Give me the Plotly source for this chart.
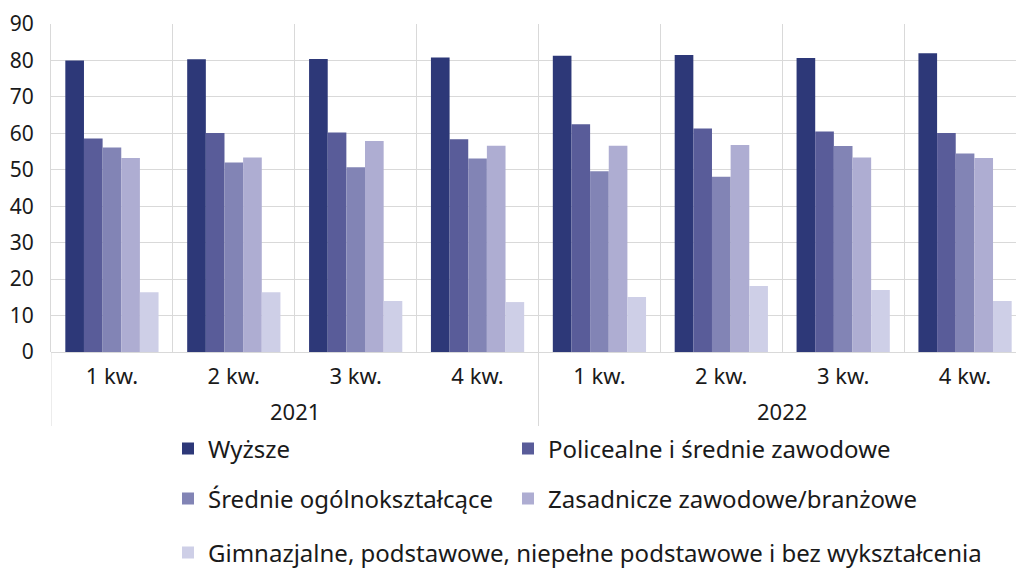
import plotly.graph_objects as go

years = ["2021", "2022"]
quarters = ["1 kw.", "2 kw.", "3 kw.", "4 kw.", "1 kw.", "2 kw.", "3 kw.", "4 kw."]

series_names = [
    "Wyższe",
    "Policealne i średnie zawodowe",
    "Średnie ogólnokształcące",
    "Zasadnicze zawodowe/branżowe",
    "Gimnazjalne, podstawowe, niepełne podstawowe i bez wykształcenia",
]
wyzsze = [80.0, 80.3, 80.4, 80.8, 81.3, 81.5, 80.7, 82.0]
policealne = [58.6, 60.1, 60.2, 58.4, 62.5, 61.3, 60.5, 60.1]
srednie = [56.1, 52.0, 50.7, 53.1, 49.6, 48.1, 56.5, 54.5]
zasadnicze = [53.2, 53.4, 57.9, 56.6, 56.6, 56.8, 53.4, 53.2]
gimnazjalne = [16.4, 16.4, 14.0, 13.7, 15.1, 18.1, 17.0, 14.0]

series_values = [wyzsze, policealne, srednie, zasadnicze, gimnazjalne]
colors = ["#2d3878", "#595c99", "#8284b5", "#aeadd2", "#cecfe7"]
y_ticks = [0, 10, 20, 30, 40, 50, 60, 70, 80, 90]

W, H = 1016, 568
ML, MR, MT, MB = 51, 0, 24, 216
pw = W - ML - MR
ph = H - MT - MB

def px_x(p):
    return (p - ML) / pw

def px_y(p):
    return (H - MB - p) / ph

x_idx = list(range(len(quarters)))
per_year = len(quarters) // len(years)
boundaries = [i + 0.5 for i in x_idx[:-1]]
year_centers = [k * per_year + (per_year - 1) / 2 for k in range(len(years))]
year_dividers = [k * per_year - 0.5 for k in range(len(years))]

legend_pos = [
    (168, 449),
    (508, 449),
    (168, 499),
    (508, 499),
    (168, 553),
]

font_family = "Noto Sans, Open Sans, sans-serif"
text_color = "#1a1a1a"
grid_color = "#d9d9d9"

fig = go.Figure()
for i, (name, vals, col) in enumerate(zip(series_names, series_values, colors)):
    lg = "legend" if i == 0 else f"legend{i+1}"
    fig.add_trace(go.Bar(
        x=x_idx, y=vals, name=name,
        marker=dict(color=col, line=dict(width=0)),
        legend=lg, showlegend=True,
    ))

layout_legends = {}
for i, (lx, ly) in enumerate(legend_pos):
    key = "legend" if i == 0 else f"legend{i+1}"
    layout_legends[key] = dict(
        x=px_x(lx), y=px_y(ly), xanchor="left", yanchor="middle",
        orientation="h", bgcolor="rgba(0,0,0,0)",
        font=dict(family=font_family, size=24, color=text_color),
        itemclick=False, visible=True,
    )

annotations = [
    dict(x=xc, y=px_y(411), xref="x", yref="paper", text=yr, showarrow=False,
         xanchor="center", yanchor="middle",
         font=dict(family=font_family, size=22, color=text_color))
    for xc, yr in zip(year_centers, years)
]
shapes = [
    dict(type="line", xref="x", yref="paper", x0=xd, x1=xd, y0=0, y1=px_y(426),
         line=dict(color=grid_color, width=1), layer="below")
    for xd in year_dividers
]

fig.update_layout(
    width=W, height=H,
    margin=dict(l=ML, r=MR, t=MT, b=MB, pad=0, autoexpand=False),
    paper_bgcolor="white", plot_bgcolor="white",
    barmode="group", bargap=0.235, bargroupgap=0,
    showlegend=True,
    font=dict(family=font_family, size=21, color=text_color),
    annotations=annotations,
    shapes=shapes,
    **layout_legends,
)
fig.update_xaxes(
    type="linear",
    range=[-0.5, 7.418],
    automargin=False,
    tickvals=x_idx, ticktext=quarters,
    showgrid=False, zeroline=False,
    minor=dict(tickvals=boundaries, showgrid=True, gridcolor=grid_color, gridwidth=1, ticks=""),
    ticks="", showline=False,
    ticklabelstandoff=9,
    tickfont=dict(family=font_family, size=22, color=text_color),
)
fig.update_yaxes(
    range=[0, 90], tickvals=y_ticks,
    automargin=False,
    showgrid=True, gridcolor=grid_color, gridwidth=1,
    zeroline=True, zerolinecolor=grid_color, zerolinewidth=1,
    showline=True, linecolor=grid_color, linewidth=1,
    ticks="", ticklabelstandoff=12,
    tickfont=dict(family=font_family, size=21, color=text_color),
)

fig.write_html("out.html", config={"displayModeBar": False},
               post_script="document.body.style.margin='0';")
